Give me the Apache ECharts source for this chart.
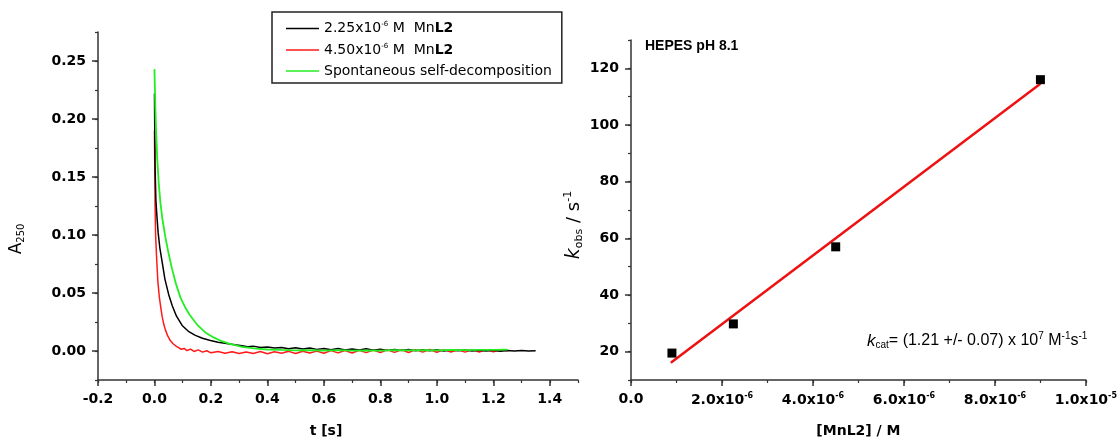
<!DOCTYPE html>
<html>
<head>
<meta charset="utf-8">
<script src="https://cdn.jsdelivr.net/npm/echarts@6/dist/echarts.min.js"></script>
<style>
  html, body { margin: 0; padding: 0; background: #fff; }
  #main { width: 1120px; height: 443px; }
</style>
</head>
<body>
<div id="main"></div>
<script>
// left panel: absorbance traces [t (s), A250]
var black225 = [
  [0.000, 0.222], [0.001, 0.190], [0.002, 0.160], [0.005, 0.130], [0.009, 0.115],
  [0.013, 0.102], [0.019, 0.089], [0.027, 0.077], [0.037, 0.062], [0.050, 0.049],
  [0.063, 0.039], [0.078, 0.030], [0.098, 0.022], [0.120, 0.017], [0.145, 0.0135],
  [0.170, 0.0110], [0.195, 0.0093], [0.225, 0.0076], [0.255, 0.0064], [0.285, 0.0054],
  [0.310, 0.0046], [0.330, 0.0037], [0.350, 0.0042], [0.375, 0.0031], [0.400, 0.0035],
  [0.425, 0.0025], [0.450, 0.0031], [0.475, 0.0020], [0.500, 0.0028], [0.525, 0.0017],
  [0.550, 0.0026], [0.575, 0.0014], [0.600, 0.0022], [0.625, 0.0011], [0.650, 0.0021],
  [0.675, 0.0008], [0.700, 0.0018], [0.725, 0.0009], [0.750, 0.0019], [0.775, 0.0006],
  [0.800, 0.0016], [0.825, 0.0004], [0.850, 0.0014], [0.875, 0.0005], [0.900, 0.0013],
  [0.925, 0.0002], [0.950, 0.0011], [0.975, 0.0003], [1.000, 0.0010], [1.025, 0.0001],
  [1.050, 0.0009], [1.075, 0.0002], [1.100, 0.0008], [1.125, -0.0001], [1.150, 0.0007],
  [1.175, 0.0000], [1.200, 0.0006], [1.225, -0.0002], [1.250, 0.0005], [1.275, 0.0001],
  [1.300, 0.0004], [1.325, -0.0001], [1.350, 0.0002]
];
var red450 = [
  [0.000, 0.190], [0.001, 0.160], [0.002, 0.128], [0.004, 0.100], [0.008, 0.078],
  [0.012, 0.060], [0.017, 0.047], [0.022, 0.038], [0.027, 0.030], [0.033, 0.023],
  [0.039, 0.018], [0.047, 0.013], [0.056, 0.009], [0.065, 0.0065], [0.075, 0.0045],
  [0.085, 0.003], [0.095, 0.0015], [0.105, 0.0022], [0.115, 0.0004], [0.128, 0.0016],
  [0.140, -0.0004], [0.155, 0.0010], [0.170, -0.0010], [0.185, 0.0002], [0.200, -0.0016],
  [0.225, -0.0004], [0.250, -0.0020], [0.275, -0.0006], [0.300, -0.0022], [0.325, -0.0008],
  [0.350, -0.0021], [0.375, -0.0005], [0.400, -0.0023], [0.425, -0.0007], [0.450, -0.0019],
  [0.475, -0.0003], [0.500, -0.0021], [0.525, -0.0002], [0.550, -0.0018], [0.575, -0.0001],
  [0.600, -0.0020], [0.625, 0.0003], [0.650, -0.0016], [0.675, 0.0004], [0.700, -0.0017],
  [0.725, 0.0006], [0.750, -0.0014], [0.775, 0.0008], [0.800, -0.0013], [0.825, 0.0010],
  [0.850, -0.0012], [0.875, 0.0011], [0.900, -0.0013], [0.925, 0.0012], [0.950, -0.0010],
  [0.975, 0.0013], [1.000, -0.0011], [1.025, 0.0012], [1.050, -0.0009], [1.075, 0.0011],
  [1.100, -0.0010], [1.125, 0.0012], [1.150, -0.0008], [1.175, 0.0010], [1.200, -0.0007],
  [1.225, 0.0008], [1.250, 0.0002]
];
var greenSpont = [
  [0.000, 0.243], [0.003, 0.210], [0.006, 0.188], [0.010, 0.165], [0.015, 0.145],
  [0.021, 0.128], [0.028, 0.114], [0.038, 0.099], [0.050, 0.084], [0.062, 0.071],
  [0.076, 0.058], [0.092, 0.046], [0.108, 0.038], [0.125, 0.031], [0.150, 0.023],
  [0.180, 0.016], [0.205, 0.0122], [0.235, 0.0088], [0.270, 0.0060], [0.310, 0.0036],
  [0.360, 0.0021], [0.400, 0.0013], [0.450, 0.0009], [0.500, 0.0006], [0.550, 0.0008],
  [0.600, 0.0004], [0.650, 0.0007], [0.700, 0.0003], [0.750, 0.0006], [0.800, 0.0004],
  [0.850, 0.0007], [0.900, 0.0005], [0.950, 0.0008], [1.000, 0.0006], [1.050, 0.0009],
  [1.100, 0.0007], [1.150, 0.0010], [1.200, 0.0009], [1.250, 0.0011]
];

// right panel: kobs vs [MnL2]
var concMnL2 = [0.9e-6, 2.25e-6, 4.5e-6, 9.0e-6];
var kobs = [19.5, 29.8, 57.0, 116.0];
var fitX = [0.875e-6, 9.0e-6];
var fitY = [16.1, 114.6];

// tick label positions
var tLabels = [-0.2, 0, 0.2, 0.4, 0.6, 0.8, 1.0, 1.2, 1.4];
var aLabels = [0, 0.05, 0.1, 0.15, 0.2, 0.25];
var concLabels = [0, 2e-6, 4e-6, 6e-6, 8e-6, 1e-5];
var kLabels = [20, 40, 60, 80, 100, 120];

var FONT = '"DejaVu Sans", Arial, sans-serif';
var ARIAL = 'Arial, "Liberation Sans", sans-serif';
var AX = '#333';

var chart = echarts.init(document.getElementById('main'));

function sciLabel(v) {
  if (Math.abs(v) < 1e-12) return '0.0';
  var e = Math.floor(Math.log10(v) + 1e-9);
  var m = v / Math.pow(10, e);
  return m.toFixed(1) + 'x10{s|' + e + '}';
}

var legendNames = {
  '2.25x10-6 M MnL2': '2.25x10{s|-6} M  Mn{b|L2}',
  '4.50x10-6 M MnL2': '4.50x10{s|-6} M  Mn{b|L2}',
  'Spontaneous self-decomposition': 'Spontaneous self-decomposition'
};

function majorAxis(extra) {
  var base = {
    axisLine: { show: true, onZero: false, lineStyle: { color: AX, width: 1.5 } },
    axisTick: { show: true, length: 6, lineStyle: { color: AX, width: 1.5 } },
    axisLabel: { color: '#000', fontWeight: 'bold', fontSize: 14, fontFamily: FONT },
    splitLine: { show: false },
    nameTextStyle: { color: '#000', fontWeight: 'bold', fontSize: 14, fontFamily: FONT }
  };
  return Object.assign(base, extra);
}

function minorAxis(extra) {
  var base = {
    axisLine: { show: false, onZero: false },
    axisTick: { show: true, length: 3, lineStyle: { color: AX, width: 1.2 } },
    axisLabel: { show: false },
    splitLine: { show: false }
  };
  return Object.assign(base, extra);
}

chart.setOption({
  animation: false,
  backgroundColor: '#fff',
  grid: [
    { left: 98, right: 542, top: 32, bottom: 62 },
    { left: 631, right: 25, top: 40, bottom: 61 }
  ],
  legend: {
    orient: 'vertical',
    left: 272,
    top: 12,
    padding: [9, 10, 5, 14],
    itemGap: 7,
    itemWidth: 33,
    itemHeight: 14,
    icon: 'path://M0,6.2 L33,6.2 L33,7.8 L0,7.8 Z',
    borderColor: '#222',
    borderWidth: 1.5,
    data: Object.keys(legendNames),
    formatter: function (n) { return legendNames[n]; },
    textStyle: {
      color: '#000', fontSize: 14, fontFamily: FONT,
      rich: {
        s: { fontSize: 7, padding: [0, 0, 8, 0], fontFamily: FONT },
        b: { fontSize: 14, fontWeight: 'bold', fontFamily: FONT }
      }
    }
  },
  xAxis: [
    majorAxis({
      gridIndex: 0, type: 'value', position: 'bottom', min: -0.2, max: 1.5, interval: 0.1,
      name: 't [s]', nameLocation: 'middle', nameGap: 44,
      nameTextStyle: { color: '#000', fontWeight: 'bold', fontSize: 14, fontFamily: FONT, padding: [0, 24, 0, 0] },
      axisTick: { show: true, length: 6, customValues: tLabels, lineStyle: { color: AX, width: 1.5 } },
      axisLabel: {
        customValues: tLabels, margin: 12, color: '#000', fontWeight: 'bold', fontSize: 14, fontFamily: FONT,
        formatter: function (v) { return v.toFixed(1); }
      }
    }),
    majorAxis({
      gridIndex: 1, type: 'value', position: 'bottom', min: 0, max: 1e-5, interval: 1e-6,
      name: '[MnL2] / M', nameLocation: 'middle', nameGap: 44,
      axisTick: { show: true, length: 6, customValues: concLabels, lineStyle: { color: AX, width: 1.5 } },
      axisLabel: {
        customValues: concLabels, margin: 12, color: '#000', fontWeight: 'bold', fontSize: 14, fontFamily: FONT,
        formatter: sciLabel,
        rich: { s: { fontSize: 8, fontWeight: 'bold', padding: [0, 0, 9, 0], fontFamily: FONT } }
      }
    }),
    minorAxis({ gridIndex: 0, type: 'value', position: 'bottom', min: -0.2, max: 1.5, interval: 0.1 }),
    minorAxis({ gridIndex: 1, type: 'value', position: 'bottom', min: 0, max: 1e-5, interval: 1e-6 })
  ],
  yAxis: [
    majorAxis({
      gridIndex: 0, type: 'value', position: 'left', min: -0.025, max: 0.275, interval: 0.025,
      name: '{a|A}{sub|250}', nameLocation: 'middle', nameGap: 72,
      nameTextStyle: {
        color: '#000', fontSize: 17, fontFamily: FONT, padding: [0, 66, 0, 0],
        rich: { a: { fontSize: 17, fontFamily: FONT }, sub: { fontSize: 10, padding: [9, 0, 0, 0], fontFamily: FONT } }
      },
      axisTick: { show: true, length: 6, customValues: aLabels, lineStyle: { color: AX, width: 1.5 } },
      axisLabel: {
        customValues: aLabels, margin: 12, color: '#000', fontWeight: 'bold', fontSize: 14, fontFamily: FONT,
        formatter: function (v) { return v.toFixed(2); }
      }
    }),
    majorAxis({
      gridIndex: 1, type: 'value', position: 'left', min: 10, max: 130, interval: 10,
      name: '{k|k}{sub|obs}{t| / s}{sup|-1}', nameLocation: 'middle', nameGap: 46,
      nameTextStyle: {
        color: '#000', fontSize: 18, fontFamily: FONT, padding: [0, 30, 0, 0],
        rich: {
          k: { fontSize: 19, fontStyle: 'italic', fontFamily: FONT },
          sub: { fontSize: 11, padding: [10, 0, 0, 0], fontFamily: FONT },
          t: { fontSize: 18, fontFamily: FONT },
          sup: { fontSize: 11, padding: [0, 0, 11, 0], fontFamily: FONT }
        }
      },
      axisTick: { show: true, length: 6, customValues: kLabels, lineStyle: { color: AX, width: 1.5 } },
      axisLabel: { customValues: kLabels, margin: 12, color: '#000', fontWeight: 'bold', fontSize: 14, fontFamily: FONT }
    }),
    minorAxis({ gridIndex: 0, type: 'value', position: 'left', min: -0.025, max: 0.275, interval: 0.025 }),
    minorAxis({ gridIndex: 1, type: 'value', position: 'left', min: 10, max: 130, interval: 10 })
  ],
  graphic: [
    {
      type: 'text', left: 645, top: 39,
      style: { text: 'HEPES pH 8.1', fill: '#000', font: 'bold 14px ' + ARIAL }
    },
    {
      type: 'text', left: 867, top: 331,
      style: {
        text: '{k|k}{sub|cat}{t|= (1.21 +/- 0.07) x 10}{sup|7}{t| M}{sup|-1}{t|s}{sup|-1}',
        fill: '#000',
        rich: {
          k: { fontSize: 17, fontStyle: 'italic', fontFamily: ARIAL },
          sub: { fontSize: 10, padding: [9, 0, 0, 0], fontFamily: ARIAL },
          t: { fontSize: 16, fontFamily: ARIAL },
          sup: { fontSize: 10, padding: [0, 0, 10, 0], fontFamily: ARIAL }
        }
      }
    }
  ],
  series: [
    {
      name: '2.25x10-6 M MnL2', type: 'line', xAxisIndex: 0, yAxisIndex: 0,
      data: black225, symbol: 'none', color: '#000', lineStyle: { width: 1.5, color: '#000' }, z: 3
    },
    {
      name: '4.50x10-6 M MnL2', type: 'line', xAxisIndex: 0, yAxisIndex: 0,
      data: red450, symbol: 'none', color: '#ff1a1a', lineStyle: { width: 1.5, color: '#ff1a1a' }, z: 2
    },
    {
      name: 'Spontaneous self-decomposition', type: 'line', xAxisIndex: 0, yAxisIndex: 0,
      data: greenSpont, symbol: 'none', color: '#22ee22', lineStyle: { width: 1.8, color: '#22ee22' }, z: 4
    },
    {
      name: 'fit', type: 'line', xAxisIndex: 1, yAxisIndex: 1,
      data: fitX.map(function (x, i) { return [x, fitY[i]]; }),
      symbol: 'none', lineStyle: { width: 2.5, color: '#ee1111' }, z: 2
    },
    {
      name: 'kobs', type: 'scatter', xAxisIndex: 1, yAxisIndex: 1,
      data: concMnL2.map(function (x, i) { return [x, kobs[i]]; }),
      symbol: 'rect', symbolSize: 9, itemStyle: { color: '#000', opacity: 1 }, z: 3
    }
  ]
});
</script>
</body>
</html>
